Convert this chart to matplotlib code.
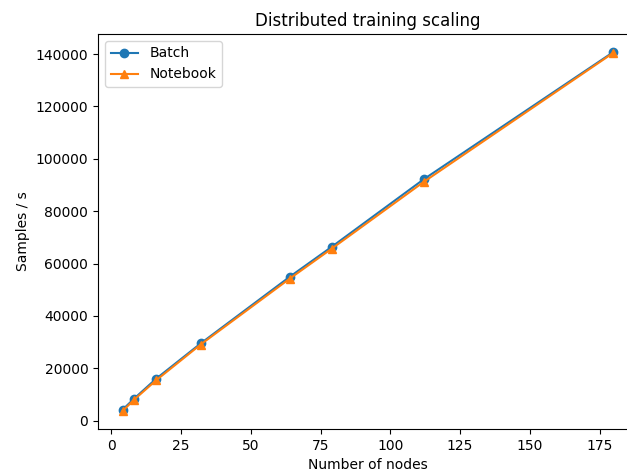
import matplotlib
matplotlib.use("Agg")
import matplotlib.pyplot as plt

nodes = [4, 8, 16, 32, 64, 79, 112, 180]
batch = [4200, 8300, 16000, 29500, 55000, 66400, 92200, 140800]
notebook = [3700, 7900, 15400, 29100, 54300, 65700, 91200, 140500]

fig = plt.figure(figsize=(6.27, 4.73), dpi=100)
# the original picture is cropped on the right, so the axes runs past the edge
ax = fig.add_axes([98 / 627, 44 / 473, 540 / 627, 395 / 473])

ax.plot(nodes, batch, marker="o", label="Batch")
ax.plot(nodes, notebook, marker="^", label="Notebook")

ax.set_title("Distributed training scaling")
ax.set_xlabel("Number of nodes")
ax.set_ylabel("Samples / s")
ax.legend(loc="upper left")

fig.savefig("out.png", dpi=100)
